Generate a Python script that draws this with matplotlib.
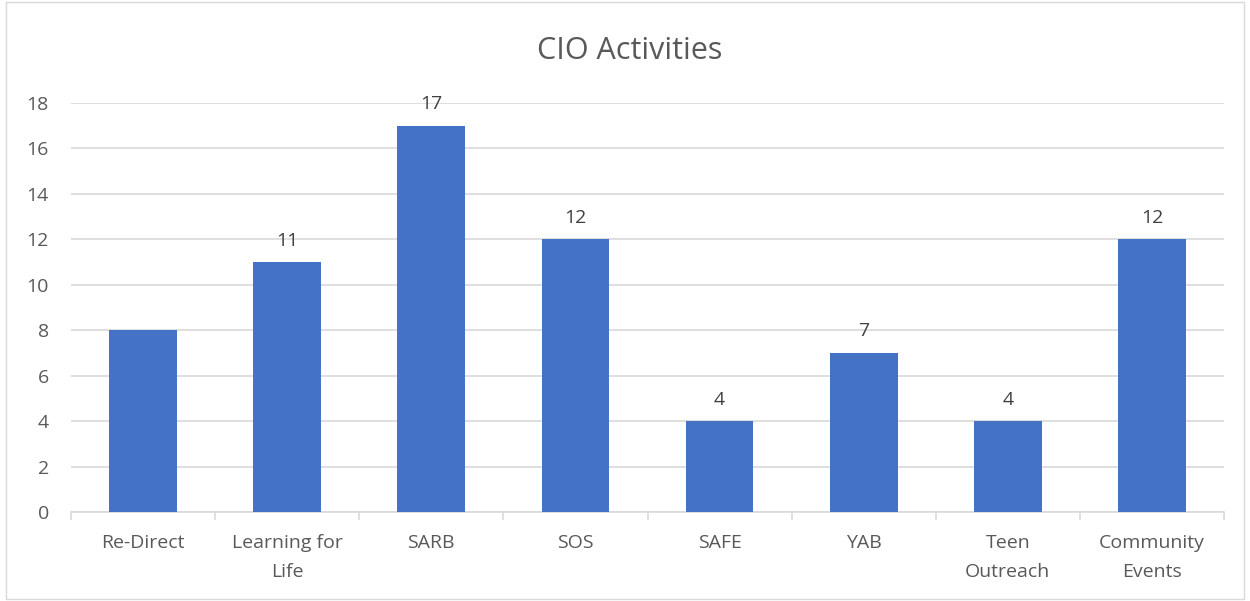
import numpy as np
import matplotlib
matplotlib.use("Agg")
import matplotlib.pyplot as plt
from matplotlib.patches import Rectangle

plt.rcParams.update({"font.family": ["Open Sans", "DejaVu Sans"]})

categories = ["Re-Direct", "Learning for\nLife", "SARB", "SOS", "SAFE", "YAB",
              "Teen\nOutreach", "Community\nEvents"]
values = [8, 11, 17, 12, 4, 7, 4, 12]
shown = [False, True, True, True, True, True, True, True]

BLUE, GREY, GRID = "#4472c4", "#595959", "#d9d9d9"

fig = plt.figure(figsize=(12.5, 6.01), dpi=100)
fig.patches.append(Rectangle((0.005, 0.003), 0.99, 0.994, transform=fig.transFigure,
                             fill=False, edgecolor=GRID, lw=1))
ax = fig.add_axes([0.0568, 0.148, 0.9224, 0.6806])
x = np.arange(len(values))
bars = ax.bar(x, values, width=0.47, color=BLUE, zorder=3)
for b, v, s in zip(bars, values, shown):
    if s:
        ax.text(b.get_x() + b.get_width() / 2, v + 0.55, str(v), ha="center",
                va="bottom", fontsize=14, color="#404040")

ax.set_xlim(-0.5, len(values) - 0.5)
ax.set_ylim(0, 18)
ax.set_yticks(range(0, 19, 2))
ax.yaxis.grid(True, color=GRID, lw=1.2, zorder=0)
ax.tick_params(axis="y", length=0, labelsize=14, labelcolor=GREY, pad=16)
ax.set_xticks(x)
ax.set_xticklabels(categories, fontsize=14, color=GREY, linespacing=1.75)
ax.tick_params(axis="x", length=0, pad=16)
ax.set_xticks(np.arange(-0.5, len(values)), minor=True)
ax.tick_params(axis="x", which="minor", length=6, color=GRID, width=1.2)
for sp in ["top", "right", "left"]:
    ax.spines[sp].set_visible(False)
ax.spines["bottom"].set_color(GRID)
ax.spines["bottom"].set_linewidth(1.2)
fig.text(0.504, 0.915, "CIO Activities", ha="center", va="center",
         fontsize=22, color=GREY)
fig.savefig("out.png", dpi=100, facecolor="white")
